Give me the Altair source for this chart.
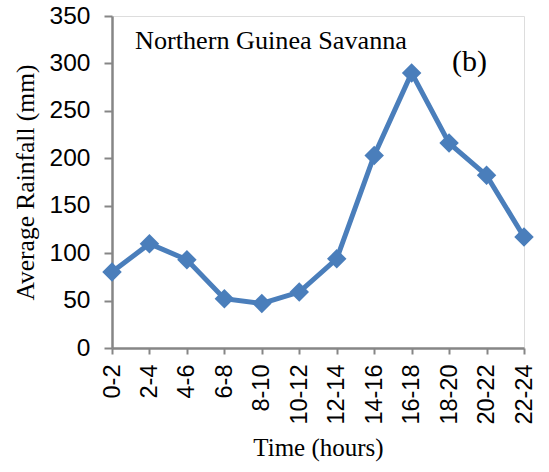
import altair as alt
import pandas as pd

# Two-hour time bins and their average rainfall (mm)
time_bins = ["0-2", "2-4", "4-6", "6-8", "8-10", "10-12",
             "12-14", "14-16", "16-18", "18-20", "20-22", "22-24"]
rainfall = [80, 110, 93, 52, 47, 59, 94, 203, 290, 216, 182, 117]

# In-plot annotations
region_label = "Northern Guinea Savanna"
panel_label = "(b)"

df = pd.DataFrame({"time": time_bins, "rain": rainfall})
notes = pd.DataFrame({"text": [region_label, panel_label]})

BLUE = "#4a7ebb"
GRAY = "#868686"
SANS = "Liberation Sans"
SERIF = "Liberation Serif"

x = alt.X(
    "time:N", sort=time_bins, title="Time (hours)",
    scale=alt.Scale(type="point", padding=0),
    axis=alt.Axis(
        labelAngle=-90, labelFont=SANS, labelFontSize=23.5, labelColor="black",
        labelPadding=10, labelAlign="right", labelBaseline="middle",
        tickSize=6, tickColor=GRAY, tickWidth=2,
        domainColor=GRAY, domainWidth=2.5,
        titleFont=SERIF, titleFontSize=25, titleFontWeight="normal",
        titleColor="black", titleY=107, titleBaseline="alphabetic",
        grid=False,
    ),
)
y = alt.Y(
    "rain:Q", title="Average Rainfall (mm)",
    scale=alt.Scale(domain=[0, 350], nice=False),
    axis=alt.Axis(
        values=list(range(0, 351, 50)), labelFont=SANS, labelFontSize=24.5,
        labelColor="black", labelPadding=14,
        tickSize=8, tickColor=GRAY, tickWidth=2,
        domainColor=GRAY, domainWidth=2.5,
        titleFont=SERIF, titleFontSize=25.5, titleFontWeight="normal",
        titleColor="black", titleX=-87, titleY=166, titleAngle=-90,
        titleBaseline="middle", titleAlign="center",
        grid=False,
    ),
)

line = alt.Chart(df).mark_line(
    color=BLUE, strokeWidth=5,
    point=alt.OverlayMarkDef(shape="diamond", size=380, filled=True,
                             color=BLUE, opacity=1),
).encode(x=x, y=y)

region = alt.Chart(notes).transform_filter(
    alt.datum.text == region_label
).mark_text(
    font=SERIF, fontSize=26.2, fontWeight="normal",
    align="left", baseline="alphabetic", color="black",
).encode(text="text:N", x=alt.value(23), y=alt.value(33))

panel = alt.Chart(notes).transform_filter(
    alt.datum.text == panel_label
).mark_text(
    font=SERIF, fontSize=30, fontWeight="normal",
    align="left", baseline="alphabetic", color="black",
).encode(text="text:N", x=alt.value(340), y=alt.value(55))

chart = (
    alt.layer(line, region, panel)
    .properties(
        width=412, height=332,
        autosize=alt.AutoSizeParams(type="none"),
        padding={"left": 112, "top": 16, "right": 25, "bottom": 124},
    )
    .configure_view(stroke=BLUE, strokeWidth=1.5)
    .configure(background="white")
)

chart.save("out.html", embed_options={"renderer": "svg", "actions": False})
